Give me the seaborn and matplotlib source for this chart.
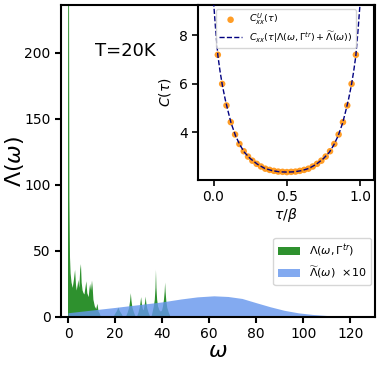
import numpy as np
import matplotlib
matplotlib.use('Agg')
import matplotlib.pyplot as plt
import seaborn as sns

# espectro verde Lambda(omega, Gamma^tr)
w_green = [0.0, 0.15, 0.35, 0.6, 0.85, 1.1, 1.5, 2.0, 2.5, 3.0, 3.4, 3.7, 4.1, 4.4, 4.8,
           5.2, 5.5, 5.8, 6.2, 6.6, 7.0, 7.4, 7.8, 8.2, 8.8, 9.1, 9.4, 9.8, 10.2, 10.5,
           10.8, 11.4, 12.0, 12.5, 13.0, 13.4, 14.0,
           19.3, 20.1, 20.8, 21.4, 22.0, 22.7, 23.5,
           24.6, 25.4, 26.0, 26.4, 26.7, 27.0, 27.4, 28.0, 28.8,
           29.3, 30.0, 30.5, 30.8, 31.1, 31.4, 31.8, 32.2, 32.5, 32.8, 33.0, 33.3, 33.7, 34.3, 35.0,
           35.5, 36.0, 36.5, 36.9, 37.2, 37.4, 37.6, 37.9, 38.3, 38.9, 39.5,
           40.0, 40.4, 40.8, 41.1, 41.3, 41.5, 41.8, 42.2, 42.8, 43.6]
lam_green = [150, 330, 330, 90, 45, 33, 26, 22, 28, 35.6, 24, 20, 24, 28, 22,
             36, 40, 26, 20, 18, 17, 22, 27, 18, 15, 21, 25, 20, 27.5, 22,
             13, 8, 6, 10, 4, 3, 0,
             0, 2.5, 4.5, 7, 4.5, 2.5, 0,
             0, 3.5, 7, 12, 18, 12, 7, 3.5, 0,
             0, 3.5, 7, 10.5, 15, 10, 6, 5, 8, 11.5, 15.4, 10.5, 6.5, 3, 0,
             0, 4, 8, 13, 22, 35.6, 22, 13, 8, 5, 4,
             5, 8, 13, 19, 26, 19, 12, 7, 3.5, 0]

# espectro azul Lambda_tilde(omega) (multiplicado por 10 no grafico)
w_blue = [0, 10, 20, 30, 40, 48, 55, 62, 68, 74, 80, 86, 92, 98, 104, 110, 116, 122, 126]
lam_blue = [0.32, 0.52, 0.72, 0.93, 1.14, 1.36, 1.52, 1.60, 1.55, 1.40, 1.08, 0.77,
            0.50, 0.31, 0.19, 0.11, 0.05, 0.02, 0.005]

# C_xx^U(tau) - pontos
tau_pts = [1/34, 2/34, 3/34, 4/34, 5/34, 6/34, 7/34, 8/34, 9/34, 10/34, 11/34, 12/34,
           13/34, 14/34, 15/34, 16/34, 17/34, 18/34, 19/34, 20/34, 21/34, 22/34, 23/34,
           24/34, 25/34, 26/34, 27/34, 28/34, 29/34, 30/34, 31/34, 32/34, 33/34]
C_pts = [7.2, 6.0, 5.11, 4.42, 3.91, 3.52, 3.22, 3.0, 2.83, 2.70, 2.59, 2.50, 2.45,
         2.41, 2.38, 2.37, 2.36, 2.37, 2.38, 2.41, 2.45, 2.50, 2.59, 2.70, 2.83, 3.0,
         3.22, 3.52, 3.91, 4.42, 5.11, 6.0, 7.2]

# curva ajustada (tracejada)
tau_fit = [0.0, 0.015, 0.03, 0.045, 0.06, 0.08, 0.10, 0.12, 0.15, 0.18, 0.21, 0.25, 0.30,
           0.35, 0.40, 0.45, 0.50, 0.55, 0.60, 0.65, 0.70, 0.75, 0.79, 0.82, 0.85, 0.88,
           0.90, 0.92, 0.94, 0.955, 0.97, 0.985, 1.0]
C_fit = [9.4, 8.2, 7.15, 6.5, 5.95, 5.35, 4.85, 4.38, 3.86, 3.48, 3.18, 2.92, 2.68,
         2.51, 2.42, 2.37, 2.36, 2.37, 2.42, 2.51, 2.68, 2.92, 3.18, 3.48, 3.86, 4.38,
         4.85, 5.35, 5.95, 6.5, 7.15, 8.2, 9.4]

fig = plt.figure(figsize=(3.81, 3.66), dpi=100)
ax = fig.add_axes([0.160, 0.134, 0.824, 0.852])

ax.fill_between(w_green, lam_green, color='forestgreen', alpha=0.95, lw=0,
                label=r'$\Lambda(\omega,\Gamma^{tr})$')
ax.fill_between(w_blue, np.array(lam_blue) * 10, color='cornflowerblue', alpha=0.8, lw=0,
                label=r'$\widetilde{\Lambda}(\omega)$  ×10')
ax.set_xlim(-3, 130.5)
ax.set_ylim(0, 236)
ax.set_xlabel(r'$\omega$', fontsize=16, labelpad=0)
ax.set_ylabel(r'$\Lambda(\omega)$', fontsize=16)
ax.yaxis.set_label_coords(-0.11, 0.5)
ax.tick_params(labelsize=10, width=1.5, length=4)
for s in ax.spines.values():
    s.set_linewidth(1.5)
ax.text(11.5, 201, 'T=20K', fontsize=13, va='center')
ax.legend(loc='lower right', bbox_to_anchor=(0.987, 0.103), borderaxespad=0, fontsize=8)

# inset
axi = fig.add_axes([0.520, 0.508, 0.462, 0.478])
sns.scatterplot(x=tau_pts, y=C_pts, ax=axi, color='darkorange', s=22, alpha=0.85,
                edgecolor='none', label=r'$C^{U}_{xx}(\tau)$', zorder=2)
sns.lineplot(x=tau_fit, y=C_fit, ax=axi, color='navy', lw=1.0, linestyle='--',
             label=r'$C_{xx}(\tau|\Lambda(\omega,\Gamma^{tr})+\widetilde{\Lambda}(\omega))$',
             zorder=3)
axi.set_xlim(-0.105, 1.095)
axi.set_ylim(2.03, 9.25)
axi.set_yticks([4, 6, 8])
axi.set_xticks([0.0, 0.5, 1.0])
axi.set_xlabel(r'$\tau/\beta$', fontsize=10, labelpad=1)
axi.set_ylabel(r'$C(\tau)$', fontsize=10)
axi.tick_params(labelsize=10, width=1.2, length=4)
for s in axi.spines.values():
    s.set_linewidth(1.5)
axi.legend(loc='upper center', fontsize=6.8, borderaxespad=0.4, labelspacing=0.25,
           borderpad=0.3, handlelength=2.4)

fig.savefig('out.png', dpi=100)
